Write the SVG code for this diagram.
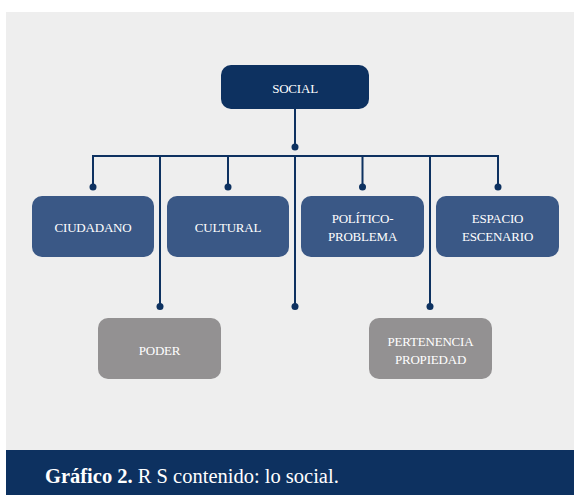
<svg xmlns="http://www.w3.org/2000/svg" width="574" height="495" viewBox="0 0 574 495">
  <style>
    .ln { stroke: #0d3160; stroke-width: 2; fill: none; }
    .dot { fill: #0d3160; }
    .t { font-family: "Liberation Serif", "DejaVu Serif", serif; font-size: 13px; fill: #ffffff; text-anchor: middle; letter-spacing: -0.2px; }
    .root { fill: #0d3160; }
    .lvl1 { fill: #3a5886; }
    .gray { fill: #939192; }
  </style>
  <rect x="0" y="0" width="574" height="495" fill="#ffffff"/>
  <rect x="6" y="12" width="568" height="438" fill="#eeeeee"/>
  <g id="connectors">
    <line class="ln" x1="295" y1="109" x2="295" y2="147"/>
    <circle class="dot" cx="295" cy="147" r="3.5"/>
    <line class="ln" x1="92" y1="156" x2="499" y2="156"/>
    <line class="ln" x1="93" y1="156" x2="93" y2="187"/>
    <circle class="dot" cx="93" cy="187" r="3.5"/>
    <line class="ln" x1="228" y1="156" x2="228" y2="187"/>
    <circle class="dot" cx="228" cy="187" r="3.5"/>
    <line class="ln" x1="362.5" y1="156" x2="362.5" y2="187"/>
    <circle class="dot" cx="362.5" cy="187" r="3.5"/>
    <line class="ln" x1="498" y1="156" x2="498" y2="187"/>
    <circle class="dot" cx="498" cy="187" r="3.5"/>
    <line class="ln" x1="160" y1="156" x2="160" y2="306"/>
    <circle class="dot" cx="160" cy="306.5" r="3.5"/>
    <line class="ln" x1="295" y1="156" x2="295" y2="306"/>
    <circle class="dot" cx="295" cy="306.5" r="3.5"/>
    <line class="ln" x1="430" y1="156" x2="430" y2="306"/>
    <circle class="dot" cx="430" cy="306.5" r="3.5"/>
  </g>
  <g id="social">
    <rect class="root" x="221" y="65" width="148" height="44" rx="10"/>
    <text class="t" x="295" y="92.5">SOCIAL</text>
  </g>
  <g id="ciudadano">
    <rect class="lvl1" x="32" y="196" width="122" height="61" rx="10"/>
    <text class="t" x="93" y="231.5">CIUDADANO</text>
  </g>
  <g id="cultural">
    <rect class="lvl1" x="167" y="196" width="122" height="61" rx="10"/>
    <text class="t" x="228" y="231.5">CULTURAL</text>
  </g>
  <g id="politico">
    <rect class="lvl1" x="301" y="196" width="123" height="61" rx="10"/>
    <text class="t" x="362.5" y="222.5">POLÍTICO-</text>
    <text class="t" x="362.5" y="241">PROBLEMA</text>
  </g>
  <g id="espacio">
    <rect class="lvl1" x="436" y="196" width="123" height="61" rx="10"/>
    <text class="t" x="497.5" y="222.5">ESPACIO</text>
    <text class="t" x="497.5" y="241">ESCENARIO</text>
  </g>
  <g id="poder">
    <rect class="gray" x="98" y="318" width="123" height="61" rx="10"/>
    <text class="t" x="159.5" y="354.5">PODER</text>
  </g>
  <g id="pertenencia">
    <rect class="gray" x="369" y="318" width="123" height="61" rx="10"/>
    <text class="t" x="430.5" y="345.5">PERTENENCIA</text>
    <text class="t" x="430.5" y="364">PROPIEDAD</text>
  </g>
  <rect x="6" y="450" width="568" height="45" fill="#0d3160"/>
  <text x="45" y="483" font-family="'Liberation Serif', 'DejaVu Serif', serif" font-size="20.5" fill="#ffffff"><tspan font-weight="bold">Gráfico 2.</tspan> R S contenido: lo social.</text>
</svg>
